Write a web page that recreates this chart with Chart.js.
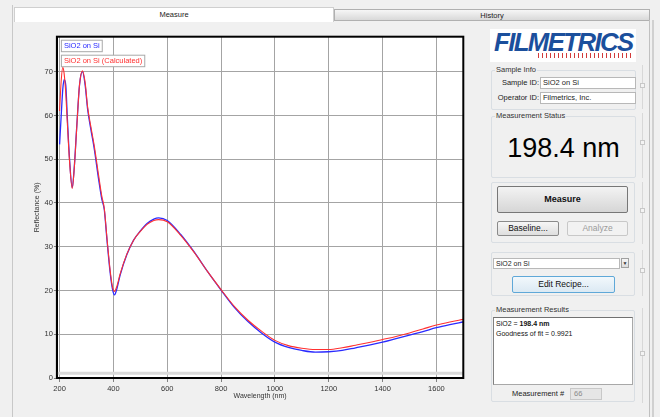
<!DOCTYPE html>
<html>
<head>
<meta charset="utf-8">
<script src="https://cdn.jsdelivr.net/npm/chart.js@4.4.0/dist/chart.umd.min.js"></script>
<style>
  html,body{margin:0;padding:0;}
  body{width:660px;height:417px;overflow:hidden;background:#f0f0f0;position:relative;font-family:"Liberation Sans",Arial,sans-serif;color:#222;}
  .abs{position:absolute;}
  .tab{position:absolute;text-align:center;font-size:7.5px;box-sizing:border-box;}
  .grp{position:absolute;border:1px solid #d9dee3;box-sizing:border-box;border-radius:2px;}
  .glabel{position:absolute;font-size:7.5px;background:#f0f0f0;padding:0 1px;line-height:9px;color:#333;}
  .lbl{position:absolute;font-size:7.5px;line-height:10px;color:#222;}
  .inp{position:absolute;background:#fff;border:1px solid #b8b8b8;box-sizing:border-box;font-size:7.5px;line-height:10px;padding-left:2px;color:#222;}
  .btn{position:absolute;box-sizing:border-box;text-align:center;border:1px solid #8a8a8a;border-radius:2px;background:linear-gradient(#f6f6f6,#dedede);font-size:8.5px;color:#111;}
  .handle{position:absolute;width:5px;height:5px;border:1px solid #c8c8c8;box-sizing:border-box;background:#f4f4f4;}
</style>
</head>
<body>
<!-- tabs -->
<div class="abs" style="left:12px;top:5px;width:1px;height:412px;background:#c8c8c8;"></div>
<div class="tab" style="left:14px;top:7px;width:320px;height:15px;background:#fff;border:1px solid #cfcfcf;border-bottom:none;line-height:14px;">Measure</div>
<div class="tab" style="left:334px;top:9px;width:316px;height:12px;background:linear-gradient(#f6f6f6,#d9d9d9);border:1px solid #b0b0b0;line-height:11px;">History</div>
<div class="abs" style="left:649px;top:20px;width:1px;height:397px;background:#c0c0c0;"></div>
<div class="abs" style="left:652px;top:20px;width:2px;height:397px;background:#d0d0d0;"></div>

<!-- logo -->
<div class="abs" style="left:490px;top:29px;width:146px;height:33px;background:#fff;"></div>
<div class="abs" style="left:494px;top:27px;font-size:26px;font-weight:bold;font-style:italic;color:#1b4f9c;letter-spacing:-1.6px;line-height:30px;transform:scaleX(0.99);transform-origin:left top;">FILMETRICS</div>
<div class="abs" style="left:538px;top:53px;width:94px;height:5px;background:repeating-linear-gradient(90deg,#d23a3a 0 1px,transparent 1px 4px);"></div>

<!-- sample info -->
<div class="grp" style="left:491px;top:70px;width:145px;height:40px;"></div>
<div class="glabel" style="left:495px;top:65px;">Sample Info</div>
<div class="lbl" style="left:490px;width:49px;text-align:right;top:78px;">Sample ID:</div>
<div class="inp" style="left:540px;top:77px;width:96px;height:12px;">SiO2 on Si</div>
<div class="lbl" style="left:490px;width:49px;text-align:right;top:93px;">Operator ID:</div>
<div class="inp" style="left:540px;top:92px;width:96px;height:12px;">Filmetrics, Inc.</div>

<!-- measurement status -->
<div class="grp" style="left:491px;top:116px;width:145px;height:62px;"></div>
<div class="glabel" style="left:495px;top:111px;">Measurement Status</div>
<div class="abs" style="left:491px;width:145px;text-align:center;top:132px;font-size:27px;line-height:32px;color:#000;">198.4 nm</div>

<!-- buttons group -->
<div class="grp" style="left:491px;top:182px;width:144px;height:61px;"></div>
<div class="btn" style="left:497px;top:186px;width:131px;height:27px;line-height:25px;font-weight:bold;font-size:9px;border-color:#777;background:linear-gradient(#f3f3f3,#d6d6d6);">Measure</div>
<div class="btn" style="left:497px;top:221px;width:62px;height:15px;line-height:13px;">Baseline...</div>
<div class="btn" style="left:567px;top:221px;width:61px;height:15px;line-height:13px;color:#9a9a9a;border-color:#c8c8c8;background:#f2f2f2;">Analyze</div>

<!-- recipe group -->
<div class="grp" style="left:491px;top:252px;width:144px;height:44px;"></div>
<div class="inp" style="left:493px;top:258px;width:127px;height:11px;line-height:9px;font-size:7px;">SiO2 on Si</div>
<div class="abs" style="left:621px;top:258px;width:8px;height:10px;box-sizing:border-box;border:1px solid #a0a0a0;background:linear-gradient(#f6f6f6,#dcdcdc);font-size:5px;line-height:8px;text-align:center;color:#333;">&#9660;</div>
<div class="btn" style="left:512px;top:276px;width:103px;height:17px;line-height:15px;border-color:#5fa8d8;background:linear-gradient(#f2f8fc,#dbe9f3);">Edit Recipe...</div>

<!-- results -->
<div class="grp" style="left:491px;top:310px;width:144px;height:92px;"></div>
<div class="glabel" style="left:495px;top:305px;">Measurement Results</div>
<div class="abs" style="left:493px;top:317px;width:140px;height:68px;background:#fff;border:1px solid #a8a8a8;border-top-color:#707070;border-left-color:#808080;box-sizing:border-box;font-size:7px;line-height:9.5px;padding:1px 2px;color:#111;">SiO2 = <b>198.4 nm</b><br>Goodness of fit = 0.9921</div>
<div class="lbl" style="left:512px;top:389px;">Measurement #</div>
<div class="abs" style="left:570px;top:388px;width:32px;height:12px;box-sizing:border-box;border:1px solid #c8c8c8;background:#e6e6e6;font-size:7.5px;line-height:10px;padding-left:3px;color:#8a8a8a;">66</div>

<!-- splitter -->
<div class="abs" style="left:642px;top:65px;width:1px;height:44px;background:#d8d8d8;"></div>
<div class="abs" style="left:642px;top:113px;width:1px;height:65px;background:#d8d8d8;"></div>
<div class="abs" style="left:642px;top:182px;width:1px;height:62px;background:#d8d8d8;"></div>
<div class="abs" style="left:642px;top:250px;width:1px;height:46px;background:#d8d8d8;"></div>
<div class="abs" style="left:642px;top:308px;width:1px;height:95px;background:#d8d8d8;"></div>
<div class="handle" style="left:640px;top:83px;"></div>
<div class="handle" style="left:640px;top:140px;"></div>
<div class="handle" style="left:640px;top:208px;"></div>
<div class="handle" style="left:640px;top:268px;"></div>
<div class="handle" style="left:640px;top:351px;"></div>

<canvas id="c" width="480" height="417" style="position:absolute;left:0;top:0;z-index:5;pointer-events:none;"></canvas>

<script>
// ---- data ----
const wavelengths = [200,206,212,217,223,229,237,247,254,264,274,285,295,304,316,329,345,357,366,376,388,396,404,412,425,450,475,500,525,550,568,600,650,700,750,800,850,900,950,1000,1050,1100,1150,1200,1250,1300,1350,1400,1450,1500,1550,1600,1650,1700];
const measured = [53.4,60.0,66.1,68.2,66.9,59.2,50.0,43.5,47.7,57.7,66.9,70.0,66.9,61.5,56.9,52.3,45.4,40.8,38.5,31.6,24.0,20.5,19.0,20.2,23.5,28.2,31.5,33.6,35.3,36.3,36.6,36.0,32.8,28.8,24.3,20.1,16.1,12.9,10.3,8.2,7.0,6.3,5.9,6.0,6.3,6.9,7.5,8.2,9.0,9.8,10.6,11.5,12.2,12.8];
const calculated = [61.0,68.0,71.0,69.5,65.0,58.0,49.5,43.3,47.5,57.5,67.0,70.2,67.5,62.0,57.5,53.0,46.3,41.5,38.8,32.0,24.5,21.0,19.8,20.8,23.8,28.3,31.5,33.5,35.1,36.0,36.2,35.7,32.6,28.7,24.3,20.2,16.3,13.2,10.7,8.6,7.4,6.8,6.5,6.5,6.9,7.5,8.1,8.8,9.5,10.3,11.2,12.1,12.8,13.4];
const seriesLabels = ['SiO2 on Si','SiO2 on Si (Calculated)'];
const xTicks = [200,400,600,800,1000,1200,1400,1600];
const yTicks = [0,10,20,30,40,50,60,70];

Chart.defaults.font.family = '"Liberation Sans", Arial, sans-serif';
Chart.defaults.animation = false;

const plotDeco = {
  id:'plotDeco',
  beforeDraw(chart){
    const {ctx, chartArea:a} = chart;
    ctx.save(); ctx.fillStyle='#fff'; ctx.fillRect(a.left,a.top,a.right-a.left,a.bottom-a.top); ctx.restore();
  },
  beforeDatasetsDraw(chart){
    const {ctx, chartArea:a, scales} = chart;
    const y = scales.y.getPixelForValue(1.1);
    ctx.save(); ctx.strokeStyle='#dadada'; ctx.lineWidth=3;
    ctx.beginPath(); ctx.moveTo(a.left,y); ctx.lineTo(a.right,y); ctx.stroke(); ctx.restore();
  },
  afterDatasetsDraw(chart){
    const {ctx, chartArea:a} = chart;
    ctx.save();
    ctx.strokeStyle='#000'; ctx.lineWidth=2;
    ctx.strokeRect(a.left,a.top,a.right-a.left,a.bottom-a.top);
    ctx.font='7.5px "Liberation Sans", Arial, sans-serif';
    ctx.textBaseline='middle';
    let y = a.top+3.5;
    chart.data.datasets.forEach(ds=>{
      const w = ctx.measureText(ds.label).width+5;
      ctx.fillStyle='#fff'; ctx.fillRect(a.left+4.5,y,w,11.5);
      ctx.strokeStyle='#a8a8a8'; ctx.lineWidth=1; ctx.strokeRect(a.left+4.5,y,w,11.5);
      ctx.fillStyle=ds.borderColor; ctx.fillText(ds.label,a.left+7,y+6.2);
      y += 15;
    });
    ctx.restore();
  }
};

new Chart(document.getElementById('c'), {
  type:'line',
  data:{
    datasets:[
      {label:seriesLabels[0], data:wavelengths.map((w,i)=>({x:w,y:measured[i]})), borderColor:'#2a2aff', borderWidth:1.3, pointRadius:0, cubicInterpolationMode:'monotone', order:1},
      {label:seriesLabels[1], data:wavelengths.map((w,i)=>({x:w,y:calculated[i]})), borderColor:'#ff3030', borderWidth:1.1, pointRadius:0, cubicInterpolationMode:'monotone', order:0}
    ]
  },
  options:{
    responsive:false,
    devicePixelRatio:1,
    layout:{padding:{left:32.5,top:36.7,right:16.7,bottom:16.8}},
    plugins:{legend:{display:false},tooltip:{enabled:false}},
    scales:{
      x:{
        type:'linear', min:190, max:1700,
        afterBuildTicks:s=>{s.ticks = xTicks.map(v=>({value:v}));},
        afterFit:s=>{s.height = 22.2;},
        ticks:{callback:v=>String(v), maxRotation:0, autoSkip:false, color:'#333', font:{size:7.5}, padding:2},
        grid:{color:'#a4a4a4', lineWidth:1, tickLength:4, tickColor:'#808080'},
        border:{display:true, color:'#000', width:2},
        title:{display:true, text:'Wavelength (nm)', color:'#333', font:{size:7}, padding:0}
      },
      y:{
        type:'linear', min:0, max:78,
        afterBuildTicks:s=>{s.ticks = yTicks.map(v=>({value:v}));},
        afterFit:s=>{s.width = 24.4;},
        ticks:{callback:v=>String(v), color:'#333', font:{size:7.5}, padding:1},
        grid:{color:'#a4a4a4', lineWidth:1, tickLength:3, tickColor:'#808080'},
        border:{display:true, color:'#000', width:2},
        title:{display:true, text:'Reflectance (%)', color:'#333', font:{size:7}, padding:0}
      }
    }
  },
  plugins:[plotDeco]
});
</script>
</body>
</html>
